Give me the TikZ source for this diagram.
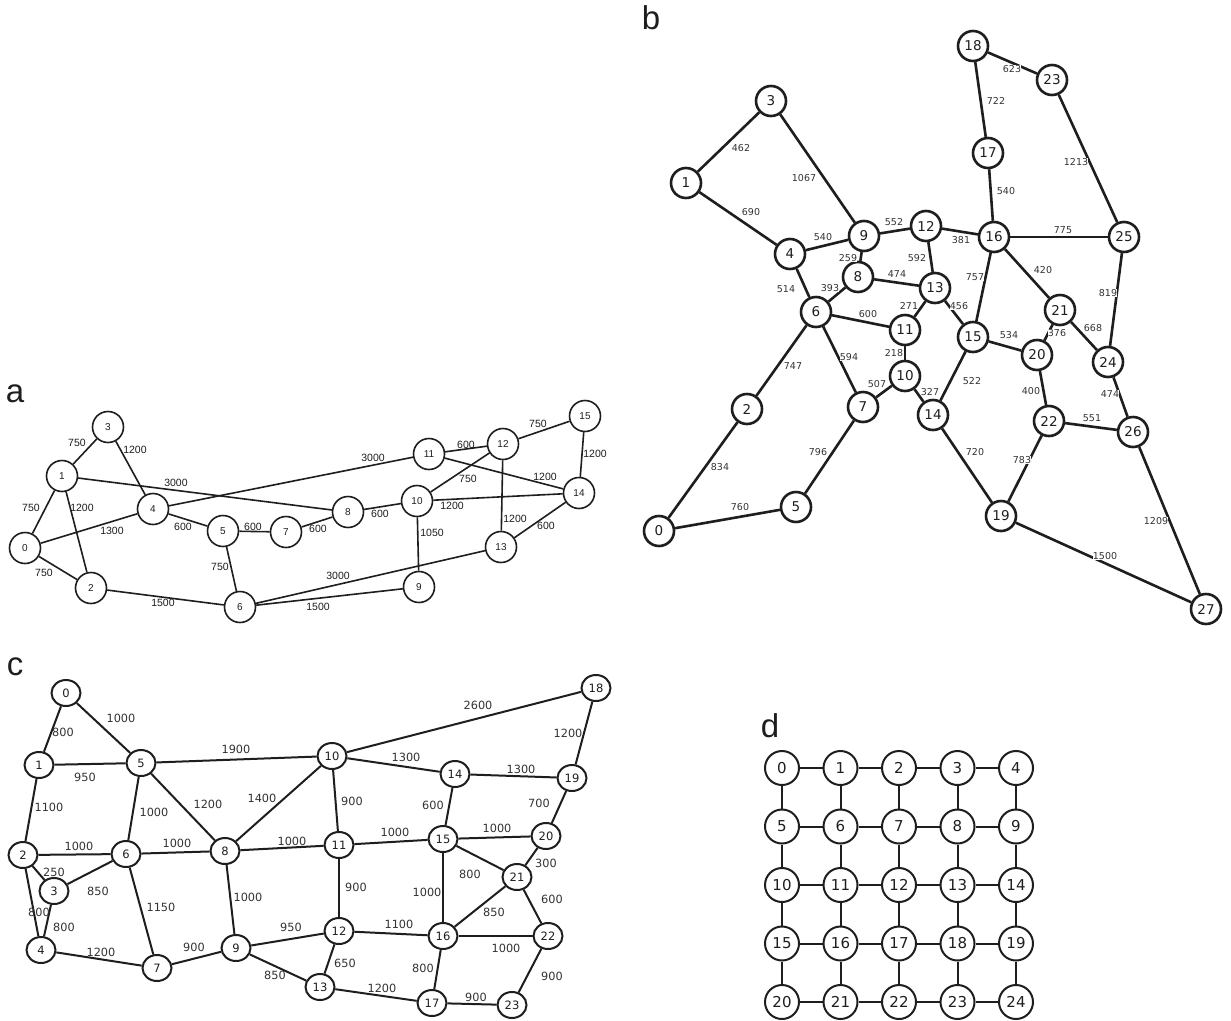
\documentclass[tikz,border=0pt]{standalone}
\usepackage{fontspec}
\usetikzlibrary{shapes.geometric}
\newfontfamily\arialf{Liberation Sans}
\newfontfamily\dejavu{DejaVu Sans}
\definecolor{ink}{HTML}{1E1E1E}
\definecolor{labgray}{HTML}{333333}
\pgfdeclarelayer{weights}
\pgfsetlayers{main,weights}
% edge from node #1 to node #2, weight #4 printed at #3 above all edges
\newcommand\link[4]{\draw[ln] (#1) -- (#2);
  \begin{pgfonlayer}{weights}\node[lab] at (#3) {#4};\end{pgfonlayer}}
\tikzset{
  panel/.style={font=\arialf\fontsize{33}{36}\selectfont, text=ink, inner sep=0pt, anchor=base},
  anode/.style={circle, draw=ink, line width=1.6pt, fill=white, minimum size=31pt, inner sep=0pt,
    font=\arialf\fontsize{10}{12}\selectfont, text=ink},
  alab/.style={font=\arialf\fontsize{10.5}{12}\selectfont, text=ink, inner sep=0pt},
  aln/.style={draw=ink, line width=1.6pt},
  bnode/.style={circle, draw=ink, line width=2.6pt, fill=white, minimum size=30pt, inner sep=0pt,
    font=\dejavu\fontsize{13.5}{15}\selectfont, text=ink},
  blab/.style={font=\dejavu\fontsize{9.5}{11}\selectfont, text=labgray, inner sep=0.3pt, fill=white},
  bln/.style={draw=ink, line width=2.6pt},
  cnode/.style={ellipse, draw=ink, line width=2pt, fill=white, minimum width=29pt, minimum height=26pt,
    inner sep=0pt, font=\dejavu\fontsize{11.5}{13}\selectfont, text=ink},
  clab/.style={font=\dejavu\fontsize{11.3}{13}\selectfont, text=labgray, inner sep=0pt},
  cln/.style={draw=ink, line width=2pt},
  dnode/.style={circle, draw=ink, line width=2pt, fill=white, minimum size=34pt, inner sep=0pt,
    font=\dejavu\fontsize{15}{17}\selectfont, text=ink},
  dln/.style={draw=ink, line width=2pt},
}
\begin{document}
\begin{tikzpicture}[x=1pt, y=-1pt]
\useasboundingbox[fill=white] (0,0) rectangle (1231,1020);

% panel letters
\node[panel] at (15,402) {a};
\node[panel] at (651,29) {b};
\node[panel] at (15,675) {c};
\node[panel] at (770,737) {d};

% ---------------- network a ----------------
\begin{scope}[ln/.style=aln, lab/.style=alab]
\foreach \n/\x/\y in {0/25/548, 1/62/476, 2/91/588, 3/108/427, 4/153/509, 5/223/531,
  6/240/607, 7/286/532, 8/348/512, 9/419/587, 10/417/501, 11/429/454, 12/503/444,
  13/501/547, 14/579/493, 15/585/416}
  \node[anode] (a\n) at (\x,\y) {\n};
\link{a0}{a1}{31,508}{750}
\link{a0}{a2}{44,573}{750}
\link{a0}{a4}{112,531}{1300}
\link{a1}{a3}{77,443}{750}
\link{a1}{a2}{82,508}{1200}
\link{a1}{a8}{176,483}{3000}
\link{a3}{a4}{135,450}{1200}
\link{a4}{a11}{373,458}{3000}
\link{a4}{a5}{183,527}{600}
\link{a5}{a7}{253,527}{600}
\link{a7}{a8}{318,529}{600}
\link{a5}{a6}{220,567}{750}
\link{a2}{a6}{163,603}{1500}
\link{a6}{a13}{338,576}{3000}
\link{a6}{a9}{318,607}{1500}
\link{a8}{a10}{380,514}{600}
\link{a10}{a9}{432,533}{1050}
\link{a10}{a12}{468,479}{750}
\link{a10}{a14}{452,506}{1200}
\link{a11}{a12}{466,445}{600}
\link{a11}{a14}{545,477}{1200}
\link{a12}{a15}{538,424}{750}
\link{a12}{a13}{515,519}{1200}
\link{a15}{a14}{595,454}{1200}
\link{a13}{a14}{546,526}{600}
\end{scope}

% ---------------- network b ----------------
\begin{scope}[ln/.style=bln, lab/.style=blab]
\foreach \n/\x/\y in {0/659/531, 1/686/183, 2/747/409, 3/771/101, 4/790/254, 5/796/507,
  6/816/312, 7/863/407, 8/858/277, 9/864/236, 10/905/376, 11/905/330, 12/926/226,
  13/935/288, 14/933/415, 15/973/337, 16/994/237, 17/988/153, 18/973/46, 19/1001/516,
  20/1037/355, 21/1060/310, 22/1049/421, 23/1052/80, 24/1108/362, 25/1124/237,
  26/1133/432, 27/1206/609}
  \node[bnode] (b\n) at (\x,\y) {\n};
\link{b1}{b3}{741,148}{462}
\link{b1}{b4}{751,212}{690}
\link{b3}{b9}{804,178}{1067}
\link{b4}{b9}{823,237}{540}
\link{b4}{b6}{786,289}{514}
\link{b9}{b12}{894,222}{552}
\link{b9}{b8}{848,258}{259}
\link{b12}{b16}{961,240}{381}
\link{b12}{b13}{917,258}{592}
\link{b8}{b13}{897,274}{474}
\link{b8}{b6}{830,288}{393}
\link{b6}{b11}{868,314}{600}
\link{b6}{b7}{849,357}{594}
\link{b6}{b2}{793,366}{747}
\link{b2}{b0}{720,467}{834}
\link{b0}{b5}{740,507}{760}
\link{b5}{b7}{818,452}{796}
\link{b7}{b10}{877,384}{507}
\link{b11}{b10}{894,353}{218}
\link{b13}{b11}{909,306}{271}
\link{b13}{b15}{959,306}{456}
\link{b10}{b14}{930,392}{327}
\link{b16}{b17}{1006,191}{540}
\link{b17}{b18}{996,101}{722}
\link{b18}{b23}{1012,69}{623}
\link{b23}{b25}{1076,162}{1213}
\link{b16}{b25}{1063,230}{775}
\link{b16}{b15}{975,277}{757}
\link{b16}{b21}{1043,270}{420}
\link{b25}{b24}{1108,293}{819}
\link{b15}{b20}{1009,335}{534}
\link{b21}{b20}{1057,333}{376}
\link{b21}{b24}{1093,328}{668}
\link{b15}{b14}{972,381}{522}
\link{b20}{b22}{1031,391}{400}
\link{b24}{b26}{1110,394}{474}
\link{b22}{b26}{1092,418}{551}
\link{b14}{b19}{975,452}{720}
\link{b22}{b19}{1022,460}{783}
\link{b26}{b27}{1156,521}{1209}
\link{b19}{b27}{1105,556}{1500}
\end{scope}

% ---------------- network c ----------------
\begin{scope}[ln/.style=cln, lab/.style=clab]
\foreach \n/\x/\y in {0/66/693, 1/39/765, 2/23/855, 3/54/891, 4/41/950, 5/141/763,
  6/126/854, 7/157/968, 8/225/851, 9/236/948, 10/332/756, 11/339/845, 12/339/931,
  13/320/987, 14/455/774, 15/443/839, 16/443/936, 17/432/1003, 18/596/688, 19/572/778,
  20/546/836, 21/517/877, 22/548/936, 23/512/1005}
  \node[cnode] (c\n) at (\x,\y) {\n};
\link{c0}{c1}{63,732}{800}
\link{c0}{c5}{121,718}{1000}
\link{c1}{c5}{85,777}{950}
\link{c1}{c2}{49,807}{1100}
\link{c5}{c10}{236,749}{1900}
\link{c5}{c6}{154,812}{1000}
\link{c5}{c8}{208,804}{1200}
\link{c8}{c10}{262,798}{1400}
\link{c2}{c6}{79,846}{1000}
\link{c6}{c8}{177,843}{1000}
\link{c8}{c11}{292,841}{1000}
\link{c2}{c3}{54,872}{250}
\link{c3}{c6}{98,891}{850}
\link{c2}{c4}{39,912}{800}
\link{c3}{c4}{64,927}{800}
\link{c6}{c7}{161,907}{1150}
\link{c8}{c9}{248,897}{1000}
\link{c4}{c7}{101,952}{1200}
\link{c7}{c9}{194,947}{900}
\link{c9}{c12}{291,927}{950}
\link{c9}{c13}{275,975}{850}
\link{c10}{c18}{478,705}{2600}
\link{c10}{c14}{406,757}{1300}
\link{c14}{c19}{521,769}{1300}
\link{c18}{c19}{568,733}{1200}
\link{c10}{c11}{352,801}{900}
\link{c14}{c15}{433,805}{600}
\link{c19}{c20}{539,803}{700}
\link{c11}{c15}{395,832}{1000}
\link{c15}{c20}{497,828}{1000}
\link{c20}{c21}{546,863}{300}
\link{c15}{c21}{470,874}{800}
\link{c11}{c12}{356,887}{900}
\link{c15}{c16}{427,892}{1000}
\link{c21}{c22}{552,899}{600}
\link{c16}{c21}{494,912}{850}
\link{c12}{c16}{399,924}{1100}
\link{c16}{c22}{506,948}{1000}
\link{c12}{c13}{345,963}{650}
\link{c16}{c17}{423,968}{800}
\link{c22}{c23}{552,976}{900}
\link{c13}{c17}{382,988}{1200}
\link{c17}{c23}{476,997}{900}
\end{scope}

% ---------------- network d: 5x5 grid ----------------
\foreach \r in {0,...,4}
  \foreach \c in {0,...,4} {
    \pgfmathtruncatemacro\nid{5*\r+\c}
    \node[dnode] (d\nid) at ({782+58.5*\c},{768+58.5*\r}) {\nid};
  }
\foreach \r in {0,...,4}
  \foreach \c in {0,...,3} {
    \pgfmathtruncatemacro\na{5*\r+\c}
    \pgfmathtruncatemacro\nb{\na+1}
    \draw[dln] (d\na) -- (d\nb);
  }
\foreach \r in {0,...,3}
  \foreach \c in {0,...,4} {
    \pgfmathtruncatemacro\na{5*\r+\c}
    \pgfmathtruncatemacro\nb{\na+5}
    \draw[dln] (d\na) -- (d\nb);
  }
\end{tikzpicture}
\end{document}
